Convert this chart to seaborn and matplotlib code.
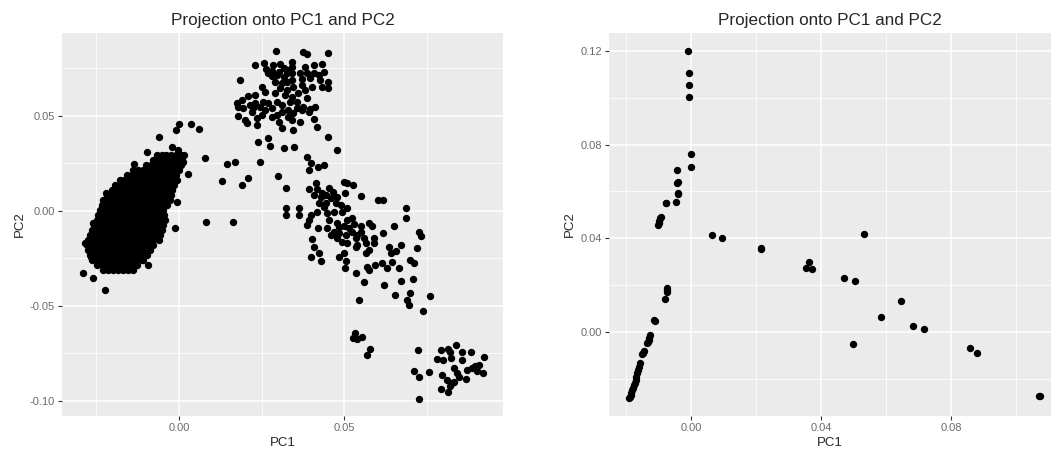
"""Two PCA projections (PC1 vs PC2) drawn side by side in a ggplot-like style."""
import matplotlib
matplotlib.use("Agg")
import matplotlib.pyplot as plt
from matplotlib.ticker import FixedLocator, FormatStrFormatter
import pandas as pd
import seaborn as sns

# ---------------------------------------------------------------------------
# Left panel data
# dense blob: one PC2 value per row, with the PC1 values seen in that row
blob_rows_pc2 = [0.0294, 0.0268, 0.0241, 0.0215, 0.0188, 0.0162, 0.0136, 0.0109,
                 0.0083, 0.0056, 0.0030, 0.0004, -0.0023, -0.0049, -0.0076, -0.0102,
                 -0.0128, -0.0155, -0.0181, -0.0208, -0.0234, -0.0260, -0.0287, -0.0313]
blob_rows_pc1 = [
    [-0.0068, -0.0053, -0.0038, -0.0023, -0.0008, 0.0007, 0.0015],
    [-0.0080, -0.0065, -0.0050, -0.0035, -0.0020, -0.0005, 0.0010],
    [-0.0100, -0.0085, -0.0070, -0.0055, -0.0040, -0.0025, -0.0010, 0.0006],
    [-0.0140, -0.0125, -0.0110, -0.0095, -0.0080, -0.0065, -0.0050, -0.0035, -0.0020, 0.0000],
    [-0.0158, -0.0143, -0.0128, -0.0113, -0.0098, -0.0083, -0.0068, -0.0053, -0.0038, -0.0023,
     -0.0008],
    [-0.0180, -0.0165, -0.0150, -0.0135, -0.0120, -0.0105, -0.0090, -0.0075, -0.0060, -0.0045,
     -0.0030, -0.0015, -0.0007],
    [-0.0193, -0.0178, -0.0163, -0.0148, -0.0133, -0.0118, -0.0103, -0.0088, -0.0073, -0.0058,
     -0.0043, -0.0028, -0.0014],
    [-0.0204, -0.0189, -0.0174, -0.0159, -0.0144, -0.0129, -0.0114, -0.0099, -0.0084, -0.0069,
     -0.0054, -0.0039, -0.0022],
    [-0.0218, -0.0203, -0.0188, -0.0173, -0.0158, -0.0143, -0.0128, -0.0113, -0.0098, -0.0083,
     -0.0068, -0.0053, -0.0038, -0.0024],
    [-0.0229, -0.0214, -0.0199, -0.0184, -0.0169, -0.0154, -0.0139, -0.0124, -0.0109, -0.0094,
     -0.0079, -0.0064, -0.0049, -0.0034, -0.0027],
    [-0.0234, -0.0219, -0.0204, -0.0189, -0.0174, -0.0159, -0.0144, -0.0129, -0.0114, -0.0099,
     -0.0084, -0.0069, -0.0054, -0.0037],
    [-0.0239, -0.0224, -0.0209, -0.0194, -0.0179, -0.0164, -0.0149, -0.0134, -0.0119, -0.0104,
     -0.0089, -0.0074, -0.0059, -0.0047],
    [-0.0244, -0.0229, -0.0214, -0.0199, -0.0184, -0.0169, -0.0154, -0.0139, -0.0124, -0.0109,
     -0.0094, -0.0079, -0.0064, -0.0045],
    [-0.0249, -0.0234, -0.0219, -0.0204, -0.0189, -0.0174, -0.0159, -0.0144, -0.0129, -0.0114,
     -0.0099, -0.0084, -0.0069, -0.0054, -0.0042],
    [-0.0256, -0.0241, -0.0226, -0.0211, -0.0196, -0.0181, -0.0166, -0.0151, -0.0136, -0.0121,
     -0.0106, -0.0091, -0.0076, -0.0061, -0.0047],
    [-0.0264, -0.0249, -0.0234, -0.0219, -0.0204, -0.0189, -0.0174, -0.0159, -0.0144, -0.0129,
     -0.0114, -0.0099, -0.0084, -0.0069, -0.0052],
    [-0.0269, -0.0254, -0.0239, -0.0224, -0.0209, -0.0194, -0.0179, -0.0164, -0.0149, -0.0134,
     -0.0119, -0.0104, -0.0089, -0.0074, -0.0057],
    [-0.0274, -0.0259, -0.0244, -0.0229, -0.0214, -0.0199, -0.0184, -0.0169, -0.0154, -0.0139,
     -0.0124, -0.0109, -0.0094, -0.0079, -0.0062],
    [-0.0278, -0.0263, -0.0248, -0.0233, -0.0218, -0.0203, -0.0188, -0.0173, -0.0158, -0.0143,
     -0.0128, -0.0113, -0.0098, -0.0078],
    [-0.0275, -0.0260, -0.0245, -0.0230, -0.0215, -0.0200, -0.0185, -0.0170, -0.0155, -0.0140,
     -0.0125, -0.0110, -0.0088],
    [-0.0269, -0.0254, -0.0239, -0.0224, -0.0209, -0.0194, -0.0179, -0.0164, -0.0149, -0.0134,
     -0.0119, -0.0098],
    [-0.0264, -0.0249, -0.0234, -0.0219, -0.0204, -0.0189, -0.0174, -0.0159, -0.0144, -0.0128,
     -0.0113],
    [-0.0248, -0.0233, -0.0218, -0.0203, -0.0188, -0.0173, -0.0158, -0.0143, -0.0128],
    [-0.0230, -0.0215, -0.0200, -0.0185, -0.0170, -0.0155, -0.0140],
]

blob_edge = [(-0.0060, 0.0386), (-0.0098, 0.0310), (-0.0022, 0.0337), (-0.0002, 0.0319),
             (-0.0135, 0.0244), (0.0013, 0.0255), (-0.0220, 0.0095), (-0.0260, -0.0065),
             (-0.0283, -0.0170), (-0.0265, -0.0245), (-0.0291, -0.0326), (-0.0261, -0.0356),
             (-0.0223, -0.0417), (-0.0138, -0.0309), (-0.0093, -0.0286), (-0.0110, -0.0260)]

bridge = [(0.0036, 0.0454), (0.0060, 0.0430), (0.0000, 0.0454), (-0.0009, 0.0425),
          (0.0028, 0.0193), (0.0079, 0.0275), (0.0081, -0.0061), (-0.0005, 0.0047),
          (-0.0012, -0.0089), (0.0131, 0.0158), (0.0146, 0.0246), (0.0169, 0.0254),
          (0.0189, 0.0135), (0.0208, 0.0174), (0.0163, -0.0058), (0.0245, 0.0254),
          (0.0298, 0.0182)]

upper_cluster = [
    (0.0294, 0.0840), (0.0376, 0.0833), (0.0387, 0.0824), (0.0452, 0.0831),
    (0.0230, 0.0766), (0.0258, 0.0779), (0.0283, 0.0766), (0.0306, 0.0770), (0.0341, 0.0784),
    (0.0262, 0.0744), (0.0268, 0.0723), (0.0281, 0.0737), (0.0301, 0.0731), (0.0316, 0.0749),
    (0.0331, 0.0740), (0.0343, 0.0754), (0.0381, 0.0758), (0.0407, 0.0766), (0.0432, 0.0772),
    (0.0185, 0.0688), (0.0281, 0.0709), (0.0296, 0.0714), (0.0316, 0.0705), (0.0326, 0.0723),
    (0.0341, 0.0723), (0.0366, 0.0726), (0.0387, 0.0723), (0.0407, 0.0726), (0.0422, 0.0714),
    (0.0437, 0.0731), (0.0291, 0.0679), (0.0311, 0.0670), (0.0326, 0.0679), (0.0341, 0.0688),
    (0.0371, 0.0691), (0.0397, 0.0696), (0.0427, 0.0688), (0.0452, 0.0679),
    (0.0306, 0.0644), (0.0326, 0.0635), (0.0346, 0.0652), (0.0371, 0.0661), (0.0402, 0.0652),
    (0.0432, 0.0652), (0.0452, 0.0644), (0.0210, 0.0603), (0.0230, 0.0609), (0.0260, 0.0626),
    (0.0291, 0.0617), (0.0321, 0.0609), (0.0341, 0.0600), (0.0174, 0.0565), (0.0190, 0.0582),
    (0.0215, 0.0556), (0.0230, 0.0565), (0.0255, 0.0573), (0.0270, 0.0565), (0.0296, 0.0573),
    (0.0336, 0.0573), (0.0179, 0.0547), (0.0195, 0.0538), (0.0225, 0.0538), (0.0245, 0.0547),
    (0.0260, 0.0530), (0.0281, 0.0538), (0.0311, 0.0556), (0.0331, 0.0530), (0.0356, 0.0538),
    (0.0376, 0.0547), (0.0397, 0.0533), (0.0412, 0.0547), (0.0179, 0.0498), (0.0200, 0.0477),
    (0.0205, 0.0459), (0.0235, 0.0486), (0.0250, 0.0503), (0.0281, 0.0495), (0.0296, 0.0503),
    (0.0331, 0.0495), (0.0346, 0.0512), (0.0371, 0.0530), (0.0392, 0.0521), (0.0341, 0.0477),
    (0.0235, 0.0451), (0.0311, 0.0433), (0.0346, 0.0424), (0.0407, 0.0481), (0.0417, 0.0438),
    (0.0240, 0.0363), (0.0270, 0.0381), (0.0275, 0.0340), (0.0316, 0.0328), (0.0349, 0.0337),
    (0.0450, 0.0389), (0.0477, 0.0319), (0.0361, 0.0617), (0.0382, 0.0635), (0.0356, 0.0573),
    (0.0387, 0.0591), (0.0366, 0.0468), (0.0250, 0.0652), (0.0220, 0.0521), (0.0311, 0.0521),
    (0.0301, 0.0468),
]

middle_cluster = [
    (0.0386, 0.0281), (0.0398, 0.0249), (0.0393, 0.0214), (0.0419, 0.0228), (0.0439, 0.0240),
    (0.0323, 0.0118), (0.0323, 0.0013), (0.0323, -0.0022), (0.0413, 0.0145), (0.0393, 0.0112),
    (0.0418, 0.0112), (0.0433, 0.0095), (0.0454, 0.0118), (0.0467, 0.0100), (0.0408, 0.0082),
    (0.0429, 0.0073), (0.0444, 0.0082), (0.0459, 0.0065), (0.0479, 0.0073), (0.0499, 0.0153),
    (0.0509, 0.0144), (0.0527, 0.0135), (0.0501, 0.0095), (0.0551, 0.0079), (0.0602, 0.0056),
    (0.0618, 0.0056), (0.0423, 0.0039), (0.0444, 0.0039), (0.0474, 0.0039), (0.0489, 0.0030),
    (0.0507, 0.0012), (0.0363, 0.0013), (0.0363, -0.0022), (0.0398, -0.0022), (0.0418, -0.0005),
    (0.0449, -0.0014), (0.0469, -0.0005), (0.0494, -0.0005), (0.0524, -0.0040), (0.0393, -0.0049),
    (0.0388, -0.0075), (0.0419, -0.0093), (0.0449, -0.0093), (0.0454, -0.0049), (0.0479, -0.0066),
    (0.0499, -0.0080), (0.0514, -0.0093), (0.0529, -0.0070), (0.0549, -0.0080), (0.0575, -0.0066),
    (0.0585, -0.0080), (0.0469, -0.0110), (0.0484, -0.0119), (0.0504, -0.0128), (0.0524, -0.0110),
    (0.0539, -0.0128), (0.0560, -0.0145), (0.0479, -0.0146), (0.0494, -0.0163), (0.0509, -0.0172),
    (0.0534, -0.0145), (0.0590, -0.0145), (0.0618, -0.0116), (0.0650, -0.0080), (0.0686, 0.0013),
    (0.0686, -0.0040), (0.0726, -0.0110), (0.0731, -0.0133), (0.0403, -0.0151), (0.0408, -0.0190),
    (0.0423, -0.0224), (0.0400, -0.0242), (0.0429, -0.0263), (0.0484, -0.0242), (0.0499, -0.0221),
    (0.0504, -0.0263), (0.0501, -0.0303), (0.0534, -0.0193), (0.0539, -0.0180), (0.0565, -0.0224),
    (0.0575, -0.0207), (0.0590, -0.0168), (0.0568, -0.0295), (0.0575, -0.0312), (0.0534, -0.0330),
    (0.0559, -0.0374), (0.0592, -0.0286), (0.0615, -0.0277), (0.0630, -0.0303), (0.0620, -0.0391),
    (0.0635, -0.0189), (0.0655, -0.0210), (0.0640, -0.0221), (0.0670, -0.0180), (0.0645, -0.0268),
    (0.0664, -0.0303), (0.0699, -0.0260), (0.0711, -0.0277), (0.0721, -0.0198), (0.0670, -0.0368),
    (0.0709, -0.0361), (0.0439, 0.0021), (0.0484, -0.0084), (0.0509, -0.0049), (0.0459, -0.0128),
    (0.0550, -0.0110), (0.0565, -0.0172),
]

lower_cluster = [
    (0.0543, -0.0470), (0.0654, -0.0444), (0.0698, -0.0435), (0.0690, -0.0470), (0.0695, -0.0496),
    (0.0758, -0.0449), (0.0737, -0.0526), (0.0533, -0.0646), (0.0526, -0.0672), (0.0538, -0.0677),
    (0.0553, -0.0667), (0.0577, -0.0725), (0.0569, -0.0760), (0.0722, -0.0733), (0.0712, -0.0842),
    (0.0725, -0.0874), (0.0755, -0.0847), (0.0727, -0.0991), (0.0792, -0.0733), (0.0815, -0.0725),
    (0.0839, -0.0707), (0.0821, -0.0742), (0.0856, -0.0742), (0.0883, -0.0742), (0.0780, -0.0782),
    (0.0798, -0.0786), (0.0822, -0.0777), (0.0856, -0.0786), (0.0922, -0.0772), (0.0795, -0.0865),
    (0.0812, -0.0891), (0.0826, -0.0909), (0.0831, -0.0830), (0.0841, -0.0853), (0.0846, -0.0874),
    (0.0871, -0.0839), (0.0886, -0.0825), (0.0896, -0.0818), (0.0906, -0.0812), (0.0901, -0.0842),
    (0.0919, -0.0853), (0.0868, -0.0888), (0.0792, -0.0940), (0.0815, -0.0953), (0.0821, -0.0923),
    (0.0831, -0.0900),
]

# ---------------------------------------------------------------------------
# Right panel data
right_points = [
    (-0.0009, 0.1198), (-0.0007, 0.1106), (-0.0005, 0.1053), (-0.0005, 0.1001),
    (0.0000, 0.0758), (0.0000, 0.0705), (-0.0044, 0.0691), (-0.0041, 0.0641), (-0.0043, 0.0636),
    (-0.0039, 0.0592), (-0.0041, 0.0588), (-0.0046, 0.0556), (-0.0078, 0.0553), (-0.0076, 0.0550),
    (-0.0093, 0.0492), (-0.0095, 0.0485), (-0.0097, 0.0475), (-0.0099, 0.0465), (-0.0101, 0.0457),
    (-0.0075, 0.0187), (-0.0073, 0.0180), (-0.0075, 0.0173), (-0.0080, 0.0144),
    (-0.0111, 0.0049), (-0.0113, 0.0053), (-0.0126, -0.0012), (-0.0128, -0.0022), (-0.0129, -0.0033),
    (-0.0131, -0.0040), (-0.0134, -0.0047), (-0.0144, -0.0080), (-0.0147, -0.0087), (-0.0150, -0.0093),
    (-0.0156, -0.0130), (-0.0160, -0.0147), (-0.0162, -0.0160), (-0.0165, -0.0175), (-0.0168, -0.0190),
    (-0.0170, -0.0203), (-0.0173, -0.0215), (-0.0175, -0.0225), (-0.0178, -0.0236), (-0.0180, -0.0246),
    (-0.0183, -0.0257), (-0.0186, -0.0267), (-0.0188, -0.0275), (-0.0191, -0.0281),
    (0.0066, 0.0414), (0.0097, 0.0403), (0.0215, 0.0358), (0.0217, 0.0356),
    (0.0354, 0.0275), (0.0364, 0.0298), (0.0371, 0.0268), (0.0471, 0.0233), (0.0505, 0.0218),
    (0.0533, 0.0419), (0.0645, 0.0135), (0.0585, 0.0064), (0.0684, 0.0026), (0.0718, 0.0013),
    (0.0499, -0.0050), (0.0858, -0.0068), (0.0879, -0.0087), (0.1072, -0.0271), (0.1074, -0.0270),
]


def build_frame(*groups):
    rows = [pt for group in groups for pt in group]
    return pd.DataFrame(rows, columns=["PC1", "PC2"])


blob = [(x, y) for y, xs in zip(blob_rows_pc2, blob_rows_pc1) for x in xs]
left_df = build_frame(blob, blob_edge, bridge, upper_cluster, middle_cluster, lower_cluster)
right_df = build_frame(right_points)

sns.set_theme(style="darkgrid", rc={
    "axes.facecolor": "#EBEBEB",
    "grid.color": "white",
    "axes.edgecolor": "#EBEBEB",
})
plt.rcParams["font.family"] = ["Liberation Sans", "DejaVu Sans"]

fig = plt.figure(figsize=(10.51, 4.53), dpi=100)
ax_left = fig.add_axes([0.0590, 0.0817, 0.4196, 0.8455])
ax_right = fig.add_axes([0.5795, 0.0817, 0.4205, 0.8455])


def draw_panel(ax, df, xlim, ylim, xmajor, xminor, ymajor, yminor):
    sns.scatterplot(data=df, x="PC1", y="PC2", ax=ax, color="black", s=28,
                    linewidth=0, zorder=3)
    ax.set_xlim(*xlim)
    ax.set_ylim(*ylim)
    ax.xaxis.set_major_locator(FixedLocator(xmajor))
    ax.xaxis.set_minor_locator(FixedLocator(xminor))
    ax.yaxis.set_major_locator(FixedLocator(ymajor))
    ax.yaxis.set_minor_locator(FixedLocator(yminor))
    ax.xaxis.set_major_formatter(FormatStrFormatter("%.2f"))
    ax.yaxis.set_major_formatter(FormatStrFormatter("%.2f"))
    ax.grid(which="major", color="white", linewidth=1.1)
    ax.grid(which="minor", color="white", linewidth=0.55)
    ax.tick_params(which="major", length=3, width=0.8, color="#333333",
                   labelsize=8, labelcolor="#6b6b6b", pad=2,
                   bottom=True, left=True)
    ax.tick_params(which="minor", length=0)
    for spine in ax.spines.values():
        spine.set_visible(False)
    ax.set_title("Projection onto PC1 and PC2", fontsize=12.3, pad=6)
    ax.set_xlabel("PC1", fontsize=9.5, labelpad=3)
    ax.set_ylabel("PC2", fontsize=9.5, labelpad=3)


draw_panel(ax_left, left_df, (-0.0354, 0.098), (-0.108, 0.0935),
           [0.0, 0.05], [-0.025, 0.025, 0.075],
           [-0.10, -0.05, 0.0, 0.05], [-0.075, -0.025, 0.025, 0.075])
draw_panel(ax_right, right_df, (-0.0252, 0.1108), (-0.0356, 0.1275),
           [0.0, 0.04, 0.08], [-0.02, 0.02, 0.06, 0.10],
           [0.0, 0.04, 0.08, 0.12], [-0.02, 0.02, 0.06, 0.10])

fig.savefig("out.png", dpi=100)
